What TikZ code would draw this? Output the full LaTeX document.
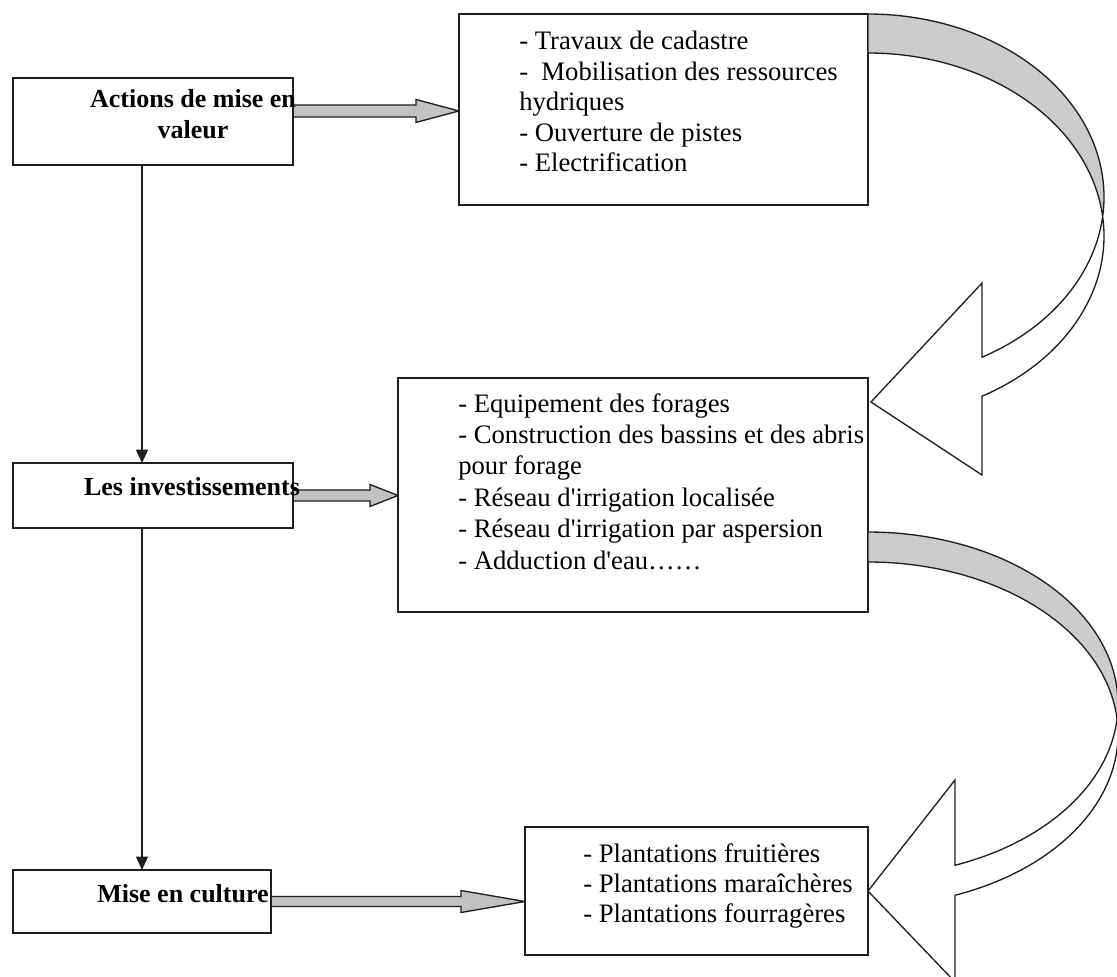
\documentclass[tikz,border=0pt]{standalone}
\usepackage{fontspec}
\setmainfont{Liberation Serif}
\usetikzlibrary{fit,calc,arrows.meta}
\pgfdeclarelayer{background}
\pgfsetlayers{background,main}

\definecolor{inkline}{gray}{0.12}
\definecolor{bandgray}{gray}{0.8}
\definecolor{shaftgray}{gray}{0.76}

% straight block arrow: style, start, end, head length, shaft half width, head half width
\newcommand\fatarrow[6]{%
  \draw[#1] let \p1=#2, \p2=#3 in
    (\x1,\y1+#5) -- (\x2-#4,\y1+#5) -- (\x2-#4,\y1+#6) -- (\x2,\y1)
    -- (\x2-#4,\y1-#6) -- (\x2-#4,\y1-#5) -- (\x1,\y1-#5) -- cycle;}

\begin{document}
\begin{tikzpicture}[x=0.75pt,y=-0.75pt,
  frame/.style={draw=inkline, line width=1.3pt, fill=white, inner sep=0pt, outer sep=0pt},
  title/.style={font=\fontsize{19.5}{23}\selectfont\bfseries, inner sep=0pt, anchor=base},
  item/.style={font=\fontsize{20}{23}\selectfont, inner sep=0pt, anchor=base west},
  drop/.style={draw=inkline, line width=1.1pt, -{Triangle[length=10pt,width=9pt]}},
  fat/.style={draw=inkline, line width=1pt, fill=shaftgray, line join=miter},
  band/.style={draw=inkline, line width=1pt, fill=bandgray, line join=miter},
  front/.style={draw=inkline, line width=1pt, fill=white, line join=miter}]

\useasboundingbox (0,0) rectangle (1117,977);
\clip (0,0) rectangle (1117,977);

% left column: stages
\node[frame, fit={(13,78) (293,165)}] (A) {};
\node[frame, fit={(13,463) (293,528)}] (C) {};
\node[frame, fit={(13,870) (271,933)}] (E) {};

% right column: details of each stage
\node[frame, fit={(459,14) (868,205)}] (B) {};
\node[frame, fit={(398,378) (868,612)}] (D) {};
\node[frame, fit={(525,827) (868,955)}] (F) {};

\begin{pgfonlayer}{background}
  % vertical sequence
  \draw[drop] (A.south -| E.north) -- (C.north -| E.north);
  \draw[drop] (C.south -| E.north) -- (E.north);
  % block arrows from stage to details
  \fatarrow{fat}{([yshift=7.9pt]A.east)}{(B.west)}{32.25pt}{4.5pt}{8.6pt}
  \fatarrow{fat}{(C.east)}{(D.west)}{21pt}{4.1pt}{8.25pt}
  \fatarrow{fat}{(E.east)}{(F.west)}{48pt}{3.75pt}{8.25pt}
\end{pgfonlayer}

% curved arrow from the first details box to the second
\begin{scope}[shift={(B.north east)}]
  \draw[band] plot[domain=-90:6.117, samples=90] ({236*cos(\x)},{183+183*sin(\x)})
    -- plot[domain=-6.117:-90, samples=90] ({236*cos(\x)},{222+183*sin(\x)}) -- cycle;
  \draw[front] plot[domain=6.117:61.11, samples=60] ({236*cos(\x)},{183+183*sin(\x)})
    -- (114,269) -- (3,388) -- (114,461)
    -- plot[domain=61.11:-6.117, samples=60] ({236*cos(\x)},{222+183*sin(\x)}) -- cycle;
\end{scope}

% curved arrow from the second details box to the third
\begin{scope}[shift={(D.north east)}]
  \draw[band] plot[domain=-90:5.003, samples=90] ({250*cos(\x)},{326+172*sin(\x)})
    -- plot[domain=-5.003:-90, samples=90] ({250*cos(\x)},{356+172*sin(\x)}) -- cycle;
  \draw[front] plot[domain=5.003:69.63, samples=60] ({250*cos(\x)},{326+172*sin(\x)})
    -- (87,402) -- (0,513) -- (87,604)
    -- plot[domain=69.63:-5.003, samples=60] ({250*cos(\x)},{356+172*sin(\x)}) -- cycle;
\end{scope}

% stage titles
\node[title] (a1) at (193,108) {Actions de mise en};
\node[title] (a2) at (193,139) {valeur};
\node[title] (c1) at (192,495) {Les investissements};
\node[title] (e1) at (183,902) {Mise en culture};

% details
\node[item] (b1) at (519,50)  {- Travaux de cadastre};
\node[item] (b2) at (519,81)  {-\ \ Mobilisation des ressources};
\node[item] (b3) at (519,111) {hydriques};
\node[item] (b4) at (519,142) {- Ouverture de pistes};
\node[item] (b5) at (519,172) {- Electrification};

\node[item] (d1) at (458,412) {- Equipement des forages};
\node[item] (d2) at (458,443) {- Construction des bassins et des abris};
\node[item] (d3) at (458,474) {pour forage};
\node[item] (d4) at (458,506) {- Réseau d\textquotesingle irrigation localisée};
\node[item] (d5) at (458,537) {- Réseau d\textquotesingle irrigation par aspersion};
\node[item] (d6) at (458,569) {- Adduction d\textquotesingle eau……};

\node[item] (f1) at (583,862) {- Plantations fruitières};
\node[item] (f2) at (583,892) {- Plantations maraîchères};
\node[item] (f3) at (583,922) {- Plantations fourragères};
\end{tikzpicture}
\end{document}
